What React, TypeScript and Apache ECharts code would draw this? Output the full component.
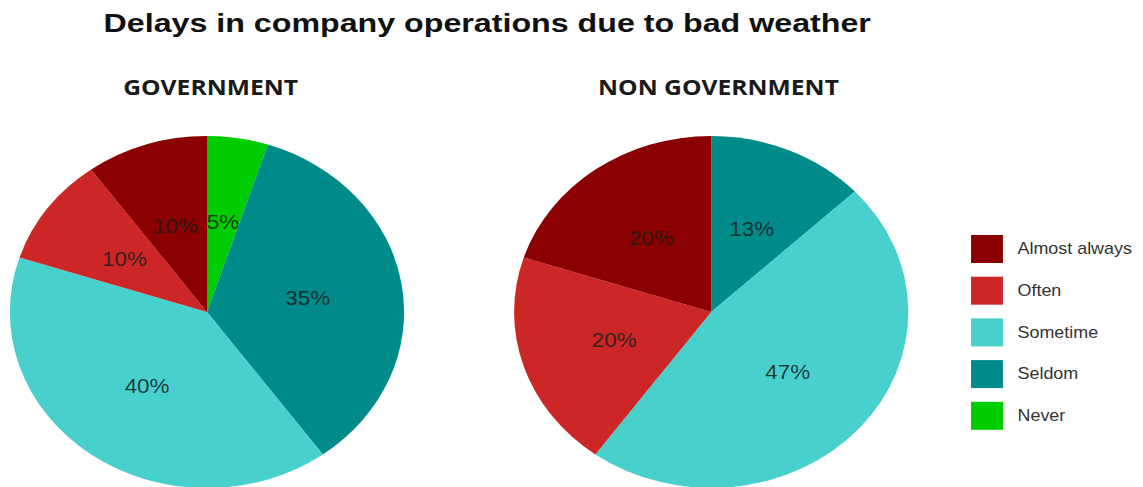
import React, { useEffect, useRef } from "react";
import * as echarts from "echarts";

const categories = ["Almost always", "Often", "Sometime", "Seldom", "Never"];
const governmentValues = [10, 10, 40, 35, 5];
const nonGovernmentValues = [20, 20, 47, 13, 0];
const colors = ["#8B0000", "#CD2626", "#48D1CC", "#008B8B", "#00CD00"];
const chartTitle = "Delays in company operations due to bad weather";
const pieTitles = ["GOVERNMENT", "NON GOVERNMENT"];

const SX = 1.12;
const W = 1143 / SX;
const H = 487;

function buildData(values: number[]) {
  // clockwise from 12 o'clock: Never, Seldom, Sometime, Often, Almost always
  const out: any[] = [];
  for (let i = categories.length - 1; i >= 0; i--) {
    if (values[i] > 0) {
      out.push({ name: categories[i], value: values[i], itemStyle: { color: colors[i] } });
    }
  }
  return out;
}

export default function App() {
  const ref = useRef<HTMLDivElement>(null);
  useEffect(() => {
    if (!ref.current) return;
    const chart = echarts.init(ref.current, null, { renderer: "svg" });
    const pieCommon = {
      type: "pie",
      radius: 176,
      startAngle: 90,
      clockwise: true,
      avoidLabelOverlap: false,
      silent: true,
      label: {
        show: true,
        position: "inside",
        formatter: "{c}%",
        fontFamily: "Liberation Sans, Arial, sans-serif",
        fontSize: 20,
        color: "rgba(25,30,30,0.85)",
      },
      labelLine: { show: false },
      itemStyle: { borderWidth: 0 },
      emphasis: { disabled: true },
    };
    chart.setOption({
      animation: false,
      backgroundColor: "#ffffff",
      color: colors,
      legend: {
        orient: "vertical",
        left: 862,
        top: 230,
        icon: "rect",
        itemWidth: 28.5,
        itemHeight: 28,
        itemGap: 13.7,
        data: categories,
        selectedMode: false,
        textStyle: {
          fontFamily: "Liberation Sans, Arial, sans-serif",
          fontSize: 16,
          color: "#333333",
          padding: [0, 0, 0, 8],
        },
      },
      graphic: [
        {
          type: "text",
          x: 435,
          y: 11,
          scaleX: 1.15,
          style: {
            text: chartTitle,
            font: "bold 25px 'Liberation Sans', Arial, sans-serif",
            fill: "#111111",
            textAlign: "center",
            textVerticalAlign: "top",
          },
        },
        {
          type: "text",
          x: 188,
          y: 76,
          style: {
            text: pieTitles[0],
            font: "bold 22px 'Open Sans', sans-serif",
            fill: "#1a1a1a",
            textAlign: "center",
            textVerticalAlign: "top",
          },
        },
        {
          type: "text",
          x: 641.5,
          y: 76,
          style: {
            text: pieTitles[1],
            font: "bold 22px 'Open Sans', sans-serif",
            fill: "#1a1a1a",
            textAlign: "center",
            textVerticalAlign: "top",
          },
        },
      ],
      series: [
        { ...pieCommon, name: pieTitles[0], center: [184.8, 312], data: buildData(governmentValues) },
        { ...pieCommon, name: pieTitles[1], center: [635, 312], data: buildData(nonGovernmentValues) },
      ],
    });
    return () => chart.dispose();
  }, []);
  return (
    <div
      ref={ref}
      style={{
        position: "fixed",
        left: 0,
        top: 0,
        width: W,
        height: H,
        transform: `scaleX(${SX})`,
        transformOrigin: "0 0",
      }}
    />
  );
}
